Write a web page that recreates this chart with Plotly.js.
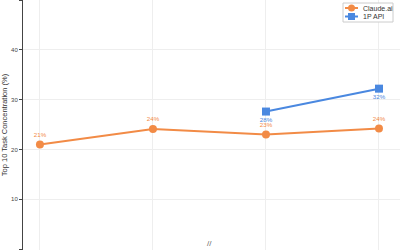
<!DOCTYPE html>
<html>
<head>
<meta charset="utf-8">
<script src="https://cdn.plot.ly/plotly-3.0.1.min.js"></script>
<style>html,body{margin:0;padding:0;background:#fff;}#chart{width:400px;height:250px;}</style>
</head>
<body>
<div id="chart"></div>
<script>
const categories = ["Dec 2024–Jan 2025", "Feb–Mar 2025", "Aug 2025", "Nov 2025"];
const claudeAi = [21.0, 24.1, 23.0, 24.2];
const apiCats = ["Aug 2025", "Nov 2025"];
const api1P = [27.6, 32.2];
const claudeLabels = ["21%", "24%", "23%", "24%"];
const apiLabels = ["28%", "32%"];
const seriesNames = ["Claude.ai", "1P API"];

const orange = "#F28B46";
const blue = "#4A88E0";

const traces = [
  {
    x: categories, y: claudeAi, name: seriesNames[0], type: "scatter",
    mode: "lines+markers+text", text: claudeLabels, textposition: "top center",
    textfont: {size: 6.2, color: orange},
    line: {color: orange, width: 2},
    marker: {color: orange, size: 8, symbol: "circle"},
    cliponaxis: false, showlegend: false
  },
  {
    x: apiCats, y: api1P, name: seriesNames[1], type: "scatter",
    mode: "lines+markers+text", text: apiLabels, textposition: "bottom center",
    textfont: {size: 6.2, color: blue},
    line: {color: blue, width: 2},
    marker: {color: blue, size: 8, symbol: "square"},
    cliponaxis: false, showlegend: false
  }
];

// custom compact legend (paper x anchored, pixel offsets)
const plotL = 23, plotW = 377, plotH = 250;
const px = v => (v - plotL) / plotW;      // pixel x -> paper
const py = v => 1 - v / plotH;             // pixel y -> paper
const legendShapes = [
  {type: "rect", xref: "paper", yref: "paper", x0: px(343), x1: px(393), y0: py(22), y1: py(3),
   line: {color: "#cccccc", width: 1}, fillcolor: "#ffffff", layer: "above"},
  {type: "line", xref: "paper", yref: "paper", x0: px(345), x1: px(358), y0: py(8), y1: py(8),
   line: {color: orange, width: 2}, layer: "above"},
  {type: "circle", xref: "paper", yref: "paper", xsizemode: "pixel", ysizemode: "pixel",
   xanchor: px(351.5), yanchor: py(8), x0: -3.5, x1: 3.5, y0: -3.5, y1: 3.5,
   fillcolor: orange, line: {width: 0}, layer: "above"},
  {type: "line", xref: "paper", yref: "paper", x0: px(345), x1: px(358), y0: py(16.5), y1: py(16.5),
   line: {color: blue, width: 2}, layer: "above"},
  {type: "rect", xref: "paper", yref: "paper", xsizemode: "pixel", ysizemode: "pixel",
   xanchor: px(351.5), yanchor: py(16.5), x0: -3.5, x1: 3.5, y0: -3.5, y1: 3.5,
   fillcolor: blue, line: {width: 0}, layer: "above"}
];

const layout = {
  width: 400, height: 250,
  margin: {l: 23, r: 0, t: 0, b: 0, pad: 0},
  paper_bgcolor: "#ffffff", plot_bgcolor: "#ffffff",
  font: {family: "Liberation Sans, Arial, sans-serif", size: 7, color: "#444"},
  showlegend: false,
  xaxis: {
    type: "category", categoryorder: "array", categoryarray: categories,
    range: [-0.15, 3.186], automargin: false,
    showgrid: true, gridcolor: "#eeeeee", gridwidth: 1,
    zeroline: false, showline: false, ticks: "", showticklabels: false
  },
  yaxis: {
    range: [-0.2, 50], automargin: false,
    tickvals: [0, 10, 20, 30, 40, 50],
    showgrid: true, gridcolor: "#eeeeee", gridwidth: 1,
    zeroline: false, showline: true, linecolor: "#444", linewidth: 1,
    ticks: "outside", ticklen: 3, tickcolor: "#444",
    tickfont: {size: 6, color: "#444"},
    title: {text: "Top 10 Task Concentration (%)", font: {size: 7.5, color: "#333"}, standoff: 4}
  },
  shapes: legendShapes,
  annotations: [
    {x: 1.5, xref: "x", y: 0, yref: "paper", yanchor: "bottom", text: "//",
     showarrow: false, font: {size: 8, color: "#666"}},
    {x: px(361), xref: "paper", xanchor: "left", y: py(8), yref: "paper", yanchor: "middle",
     text: seriesNames[0], showarrow: false, font: {size: 7, color: "#333"}},
    {x: px(361), xref: "paper", xanchor: "left", y: py(16.5), yref: "paper", yanchor: "middle",
     text: seriesNames[1], showarrow: false, font: {size: 7, color: "#333"}}
  ]
};

Plotly.newPlot("chart", traces, layout, {displayModeBar: false, staticPlot: true});
</script>
</body>
</html>
